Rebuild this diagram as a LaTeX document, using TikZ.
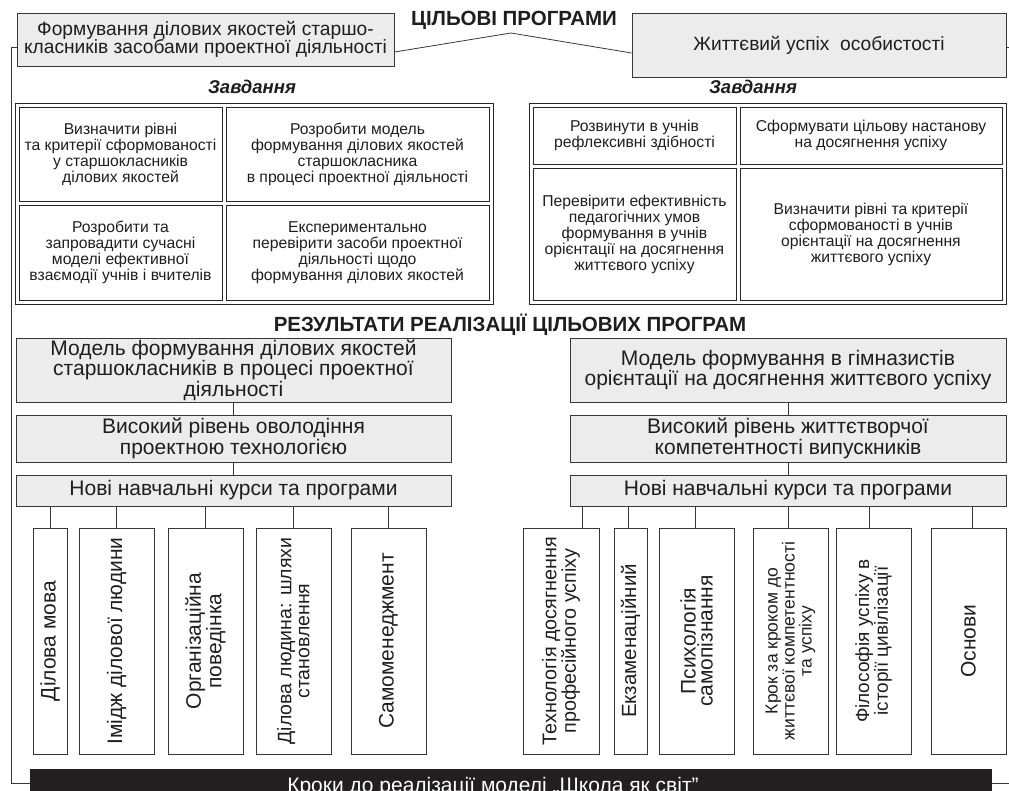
\documentclass[tikz,border=0pt]{standalone}
\usepackage{fontspec}
\setmainfont{Liberation Sans}
\usepackage{tikz}
\usetikzlibrary{positioning,fit,calc}

\definecolor{boxfill}{RGB}{236,236,236}
\definecolor{boxline}{RGB}{55,55,55}
\definecolor{ink}{RGB}{30,30,30}
\definecolor{barblack}{RGB}{35,31,32}

\newcommand{\goalfont}{\fontsize{19.2}{18.5}\selectfont}
\newcommand{\headfont}{\fontsize{20.5}{21}\selectfont\bfseries}
\newcommand{\subfont}{\fontsize{18.5}{19}\selectfont\bfseries\itshape}
\newcommand{\taskfont}{\fontsize{15.7}{16}\selectfont}
\newcommand{\resfont}{\fontsize{21}{18}\selectfont}

\tikzset{
  goalbox/.style={draw=boxline, fill=boxfill, line width=0.9pt, align=center, inner sep=0pt, text=ink},
  taskcell/.style={draw=black!85, line width=0.7pt, align=center, inner sep=0pt, text=ink, font=\taskfont},
  taskgrid/.style={draw=black!85, line width=0.7pt, inner sep=3.5pt},
  resbox/.style={goalbox, font=\resfont},
  course/.style={draw=boxline, line width=1pt, rotate=90, align=center, inner sep=0pt, text=ink, minimum width=226pt},
  link/.style={draw=boxline, line width=0.8pt},
  heading/.style={font=\headfont, text=ink},
  subhead/.style={font=\subfont, text=ink}
}

\begin{document}
\begin{tikzpicture}[x=1pt,y=-1pt]
\useasboundingbox (0,0) rectangle (1009,790);
\clip (0,0) rectangle (1009,790);

% Target programmes
\node[goalbox, font=\goalfont, minimum width=377pt, minimum height=53pt] (tl) at (205.5,39.5)
  {Формування ділових якостей старшо-\\класників засобами проектної діяльності};
\node[goalbox, font=\goalfont, minimum width=374pt, minimum height=64pt] (tr) at (819,45)
  {Життєвий успіх\ \ особистості};
\node[heading] (goal) at (514,20) {ЦІЛЬОВІ ПРОГРАМИ};
\coordinate (peak) at (511,33);
\draw[link] (tl.east |- 0,52) -- (peak) -- (tr.west |- 0,53);

% Tasks
\node[subhead] (zl) at (252,87) {Завдання};
\node[subhead] (zr) at (753,87) {Завдання};

\node[taskcell, minimum width=203pt, minimum height=94pt] (t1) at (120.5,154)
  {Визначити рівні\\та критерії сформованості\\у старшокласників\\ділових якостей};
\node[taskcell, minimum width=263pt, minimum height=94pt] (t2) at (357.5,154)
  {Розробити модель\\формування ділових якостей\\старшокласника\\в процесі проектної діяльності};
\node[taskcell, minimum width=203pt, minimum height=95pt] (t3) at (120.5,252.5)
  {Розробити та\\запровадити сучасні\\моделі ефективної\\взаємодії учнів і вчителів};
\node[taskcell, minimum width=263pt, minimum height=95pt] (t4) at (357.5,252.5)
  {Експериментально\\перевірити засоби проектної\\діяльності щодо\\формування ділових якостей};
\node[taskgrid, fit=(t1)(t4)] (tgl) {};

\node[taskcell, minimum width=203pt, minimum height=57pt] (s1) at (634.5,135.5)
  {Розвинути в учнів\\рефлексивні здібності};
\node[taskcell, minimum width=262pt, minimum height=57pt] (s2) at (871,135.5)
  {Сформувати цільову настанову\\на досягнення успіху};
\node[taskcell, minimum width=203pt, minimum height=132pt] (s3) at (634.5,234)
  {Перевірити ефективність\\педагогічних умов\\формування в учнів\\орієнтації на досягнення\\життєвого успіху};
\node[taskcell, minimum width=262pt, minimum height=132pt] (s4) at (871,234)
  {Визначити рівні та критерії\\сформованості в учнів\\орієнтації на досягнення\\життєвого успіху};
\node[taskgrid, fit=(s1)(s4)] (tgr) {};

% Results
\node[heading] (res) at (510,325) {РЕЗУЛЬТАТИ РЕАЛІЗАЦІЇ ЦІЛЬОВИХ ПРОГРАМ};

\node[resbox, minimum width=435pt, minimum height=64pt] (la) at (233.5,370)
  {Модель формування ділових якостей\\старшокласників в процесі проектної\\діяльності};
\node[resbox, minimum width=435pt, minimum height=47pt] (lb) at (233.5,438.5)
  {Високий рівень оволодіння\\проектною технологією};
\node[resbox, minimum width=435pt, minimum height=31pt] (lc) at (233.5,490.5)
  {Нові навчальні курси та програми};
\draw[link] (la) -- (lb);
\draw[link] (lb) -- (lc);

\node[resbox, minimum width=436pt, minimum height=64pt] (ra) at (788,370)
  {Модель формування в гімназистів\\орієнтації на досягнення життєвого успіху};
\node[resbox, minimum width=436pt, minimum height=47pt] (rb) at (788,438.5)
  {Високий рівень життєтворчої\\компетентності випускників};
\node[resbox, minimum width=436pt, minimum height=31pt] (rc) at (788,490.5)
  {Нові навчальні курси та програми};
\draw[link] (ra) -- (rb);
\draw[link] (rb) -- (rc);

% Courses
\foreach \x/\w/\s/\t [count=\i] in {50/34/21/{Ділова мова},
    116.5/75/21/{Імідж ділової людини},
    205.5/75/21/{Організаційна\\поведінка},
    293.5/75/19.5/{Ділова людина: шляхи\\становлення},
    388.5/75/21/{Самоменеджмент}}
{
  \node[course, font=\fontsize{\s}{18}\selectfont, minimum height=\w pt] (l\i) at (\x,641) {\t};
  \draw[link] (lc.south -| l\i.east) -- (l\i.east);
}

\foreach \x/\w/\c/\s/\t [count=\i] in {561/76/582/19.8/{Технологія досягнення\\професійного успіху},
    630.5/33/628/20.5/{Екзаменаційний},
    696.5/75/695/21/{Психологія\\самопізнання},
    790.5/75/788/17.5/{Крок за кроком до\\життєвої компетентності\\та успіху},
    873.5/75/869/19/{Філософія успіху в\\історії цивілізації},
    968.5/75/972/21/{Основи}}
{
  \node[course, font=\fontsize{\s}{17}\selectfont, minimum height=\w pt] (r\i) at (\x,641) {\t};
  \draw[link] (rc.south -| \c,0) -- (r\i.east -| \c,0);
}

% Steps bar and frame
\node[fill=barblack, minimum width=962pt, minimum height=28pt, inner sep=0pt] (bar) at (511,783) {};
\node[text=white, font=\resfont, anchor=base] (bartxt) at (493,792)
  {Кроки до реалізації моделі „Школа як світ”};
\coordinate (fl) at (11,47);
\coordinate (fr) at (1012,47);
\draw[link] (tl.west |- fl) -- (fl) |- (bar.west);
\draw[link] (tr.east |- fr) -- (fr) |- (bar.east);
\end{tikzpicture}
\end{document}
